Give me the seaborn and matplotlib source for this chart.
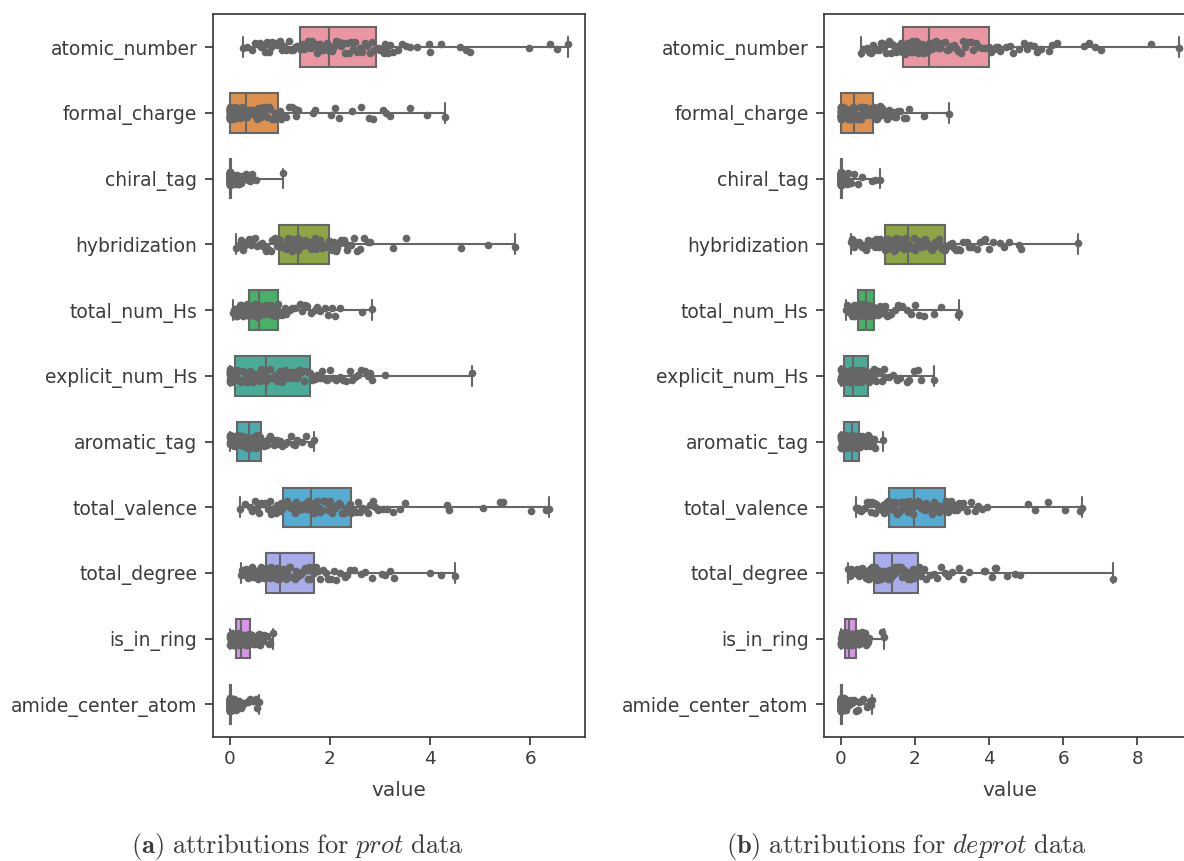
import numpy as np
import pandas as pd
import matplotlib
matplotlib.use("Agg")
import matplotlib.pyplot as plt
import seaborn as sns

FEATURES = ["atomic_number", "formal_charge", "chiral_tag", "hybridization",
            "total_num_Hs", "explicit_num_Hs", "aromatic_tag", "total_valence",
            "total_degree", "is_in_ring", "amide_center_atom"]

# ---------------- prot data ----------------
prot_atomic_number = [
    0.27, 0.45, 0.55, 0.62, 0.70, 0.78, 0.85, 0.92, 1.00, 1.08, 1.18, 1.30, 1.40,
    1.44, 1.48, 1.52, 1.57, 1.62, 1.67, 1.72, 1.78, 1.84, 1.90, 1.95, 1.99,
    2.04, 2.10, 2.16, 2.22, 2.30, 2.38, 2.46, 2.55, 2.64, 2.74, 2.84, 2.92,
    3.05, 3.20, 3.43, 3.51, 3.73, 3.97, 4.21, 4.59, 4.79, 5.97, 6.39, 6.75,
    0.35, 0.50, 0.60, 0.66, 0.74, 0.82, 0.95, 1.04, 1.13, 1.22, 1.27, 1.35,
    1.42, 1.46, 1.50, 1.55, 1.60, 1.65, 1.70, 1.75, 1.81, 1.87, 1.93, 1.97,
    2.02, 2.07, 2.13, 2.19, 2.26, 2.34, 2.42, 2.50, 2.60, 2.69, 2.79, 2.88,
    2.96, 3.00, 3.10, 3.15, 3.25, 3.35, 3.60, 4.00, 4.71, 6.52, 3.08, 3.12]
prot_formal_charge = [
    0.0, 0.0, 0.0, 0.0, 0.0, 0.0, 0.0, 0.0, 0.0, 0.0, 0.0, 0.0, 0.0,
    0.02, 0.04, 0.06, 0.08, 0.10, 0.13, 0.16, 0.19, 0.22, 0.25, 0.28, 0.32,
    0.36, 0.40, 0.45, 0.50, 0.55, 0.60, 0.66, 0.72, 0.78, 0.85, 0.91, 0.97,
    1.30, 1.70, 2.02, 2.19, 2.45, 2.62, 2.78, 3.05, 3.20, 3.59, 3.93, 4.30,
    0.0, 0.0, 0.0, 0.0, 0.0, 0.0, 0.0, 0.0, 0.0, 0.0, 0.0, 0.0,
    0.01, 0.03, 0.05, 0.07, 0.09, 0.12, 0.15, 0.18, 0.21, 0.24, 0.27, 0.30,
    0.34, 0.38, 0.42, 0.47, 0.52, 0.57, 0.63, 0.69, 0.75, 0.81, 0.88, 0.94,
    1.00, 1.03, 1.08, 1.12, 1.18, 1.25, 1.33, 1.37, 1.67, 2.10, 2.85, 3.12]
prot_chiral_tag = [
    0.0, 0.0, 0.0, 0.0, 0.0, 0.0, 0.0, 0.0, 0.0, 0.0,
    0.0, 0.0, 0.0, 0.0, 0.0, 0.0, 0.0, 0.0, 0.0, 0.0,
    0.0, 0.0, 0.0, 0.0, 0.0, 0.0, 0.0, 0.0, 0.0, 0.0,
    0.0, 0.0, 0.01, 0.01, 0.01, 0.02, 0.02,
    0.03, 0.06, 0.09, 0.10, 0.12, 0.16, 0.25, 0.32, 0.40, 0.47, 0.53, 1.07,
    0.0, 0.0, 0.0, 0.0, 0.0, 0.0, 0.0, 0.0, 0.0, 0.0,
    0.0, 0.0, 0.0, 0.0, 0.0, 0.0, 0.0, 0.0, 0.0, 0.0,
    0.0, 0.0, 0.0, 0.0, 0.0, 0.0, 0.0, 0.0, 0.0, 0.0,
    0.01, 0.01, 0.01, 0.01, 0.02, 0.02,
    0.03, 0.04, 0.05, 0.07, 0.08, 0.11, 0.14, 0.18, 0.22, 0.28, 0.36, 0.44]
prot_hybridization = [
    0.13, 0.22, 0.30, 0.38, 0.46, 0.54, 0.62, 0.68, 0.75, 0.82, 0.88, 0.94, 0.99,
    1.02, 1.05, 1.08, 1.12, 1.15, 1.19, 1.22, 1.25, 1.29, 1.32, 1.35, 1.37,
    1.42, 1.47, 1.52, 1.57, 1.62, 1.68, 1.73, 1.78, 1.84, 1.89, 1.94, 1.99,
    2.05, 2.15, 2.28, 2.42, 2.55, 2.68, 2.80, 3.25, 3.51, 4.62, 5.15, 5.70,
    0.18, 0.26, 0.34, 0.42, 0.50, 0.58, 0.65, 0.72, 0.79, 0.85, 0.91, 0.96,
    1.01, 1.04, 1.07, 1.10, 1.14, 1.17, 1.20, 1.24, 1.27, 1.30, 1.33, 1.36,
    1.40, 1.45, 1.50, 1.55, 1.60, 1.65, 1.70, 1.76, 1.81, 1.86, 1.91, 1.96,
    2.02, 2.08, 2.10, 2.18, 2.22, 2.35, 2.48, 2.60, 2.75, 2.20, 2.12, 2.32]
prot_total_num_Hs = [
    0.07, 0.10, 0.13, 0.16, 0.19, 0.22, 0.25, 0.28, 0.30, 0.33, 0.35, 0.37, 0.39,
    0.41, 0.42, 0.44, 0.46, 0.47, 0.49, 0.51, 0.52, 0.54, 0.56, 0.58, 0.59,
    0.62, 0.65, 0.68, 0.71, 0.74, 0.77, 0.80, 0.83, 0.87, 0.90, 0.94, 0.97,
    1.02, 1.10, 1.20, 1.40, 1.55, 1.63, 1.80, 1.97, 2.10, 2.20, 2.65, 2.83,
    0.08, 0.11, 0.14, 0.17, 0.20, 0.23, 0.26, 0.29, 0.31, 0.34, 0.36, 0.38,
    0.40, 0.41, 0.43, 0.45, 0.46, 0.48, 0.50, 0.51, 0.53, 0.55, 0.57, 0.58,
    0.60, 0.63, 0.66, 0.69, 0.72, 0.75, 0.78, 0.82, 0.85, 0.88, 0.92, 0.95,
    0.99, 1.05, 1.15, 1.25, 1.30, 1.45, 1.50, 1.70, 1.75, 1.90, 2.05, 1.12]
prot_explicit_num_Hs = [
    0.0, 0.0, 0.0, 0.01, 0.01, 0.02, 0.03, 0.04, 0.05, 0.06, 0.07, 0.09, 0.10,
    0.15, 0.20, 0.26, 0.32, 0.38, 0.44, 0.50, 0.55, 0.60, 0.65, 0.69, 0.73,
    0.80, 0.87, 0.94, 1.01, 1.08, 1.15, 1.22, 1.30, 1.38, 1.45, 1.53, 1.60,
    1.70, 1.80, 1.90, 2.07, 2.27, 2.40, 2.50, 2.63, 2.76, 2.83, 3.10, 4.83,
    0.0, 0.0, 0.0, 0.0, 0.01, 0.02, 0.03, 0.04, 0.05, 0.06, 0.08, 0.09,
    0.12, 0.17, 0.23, 0.29, 0.35, 0.41, 0.47, 0.52, 0.57, 0.62, 0.67, 0.71,
    0.76, 0.83, 0.90, 0.97, 1.04, 1.11, 1.18, 1.26, 1.34, 1.41, 1.49, 1.56,
    1.65, 1.75, 1.85, 1.95, 2.00, 2.12, 2.20, 2.33, 2.45, 2.57, 2.70, 2.80]
prot_aromatic_tag = [
    0.0, 0.01, 0.02, 0.03, 0.04, 0.05, 0.06, 0.08, 0.09, 0.11, 0.12, 0.14, 0.15,
    0.17, 0.19, 0.21, 0.23, 0.25, 0.27, 0.29, 0.31, 0.33, 0.35, 0.37, 0.38,
    0.40, 0.42, 0.44, 0.46, 0.48, 0.50, 0.52, 0.54, 0.56, 0.58, 0.60, 0.62,
    0.66, 0.72, 0.78, 0.85, 0.92, 1.00, 1.10, 1.27, 1.35, 1.53, 1.62, 1.68,
    0.0, 0.0, 0.01, 0.02, 0.03, 0.05, 0.07, 0.08, 0.10, 0.11, 0.13, 0.14,
    0.16, 0.18, 0.20, 0.22, 0.24, 0.26, 0.28, 0.30, 0.32, 0.34, 0.36, 0.37,
    0.39, 0.41, 0.43, 0.45, 0.47, 0.49, 0.51, 0.53, 0.55, 0.57, 0.59, 0.61,
    0.64, 0.69, 0.75, 0.81, 0.88, 0.95, 1.05, 1.15, 1.22, 1.30, 1.45, 0.70]
prot_total_valence = [
    0.20, 0.40, 0.50, 0.58, 0.66, 0.74, 0.80, 0.86, 0.92, 0.97, 1.01, 1.04, 1.07,
    1.12, 1.17, 1.22, 1.27, 1.32, 1.37, 1.42, 1.47, 1.52, 1.56, 1.60, 1.63,
    1.69, 1.75, 1.81, 1.87, 1.94, 2.00, 2.07, 2.14, 2.21, 2.28, 2.36, 2.43,
    2.60, 2.80, 3.13, 3.50, 4.33, 4.38, 5.05, 5.40, 5.45, 6.02, 6.30, 6.37,
    0.30, 0.45, 0.54, 0.62, 0.70, 0.77, 0.83, 0.89, 0.94, 0.99, 1.03, 1.05,
    1.10, 1.15, 1.20, 1.25, 1.30, 1.35, 1.40, 1.45, 1.50, 1.54, 1.58, 1.62,
    1.66, 1.72, 1.78, 1.84, 1.90, 1.97, 2.04, 2.11, 2.18, 2.25, 2.32, 2.40,
    2.47, 2.52, 2.56, 2.65, 2.70, 2.75, 2.85, 2.90, 2.95, 3.05, 3.25, 3.40]
prot_total_degree = [
    0.23, 0.28, 0.32, 0.36, 0.40, 0.45, 0.50, 0.54, 0.58, 0.62, 0.66, 0.70, 0.73,
    0.75, 0.77, 0.80, 0.82, 0.84, 0.86, 0.88, 0.91, 0.94, 0.96, 0.98, 1.00,
    1.06, 1.12, 1.18, 1.24, 1.30, 1.36, 1.42, 1.48, 1.54, 1.59, 1.64, 1.69,
    1.87, 2.02, 2.13, 2.40, 2.63, 2.83, 3.03, 3.20, 3.27, 4.00, 4.21, 4.49,
    0.25, 0.30, 0.34, 0.38, 0.42, 0.47, 0.52, 0.56, 0.60, 0.64, 0.68, 0.71,
    0.74, 0.76, 0.78, 0.81, 0.83, 0.85, 0.87, 0.90, 0.92, 0.95, 0.97, 0.99,
    1.03, 1.09, 1.15, 1.21, 1.27, 1.33, 1.39, 1.45, 1.51, 1.56, 1.61, 1.66,
    1.72, 1.76, 1.80, 1.92, 1.97, 2.08, 2.20, 2.30, 2.35, 2.48, 2.70, 3.10]
prot_is_in_ring = [
    0.0, 0.01, 0.02, 0.03, 0.04, 0.05, 0.06, 0.07, 0.08, 0.09, 0.10, 0.11, 0.12,
    0.13, 0.14, 0.15, 0.16, 0.17, 0.18, 0.19, 0.20, 0.21, 0.22, 0.22, 0.23,
    0.25, 0.26, 0.28, 0.29, 0.30, 0.32, 0.33, 0.34, 0.36, 0.37, 0.39, 0.40,
    0.43, 0.46, 0.49, 0.52, 0.55, 0.58, 0.62, 0.66, 0.70, 0.75, 0.80, 0.87,
    0.0, 0.01, 0.02, 0.03, 0.04, 0.05, 0.06, 0.07, 0.08, 0.09, 0.10, 0.11,
    0.13, 0.14, 0.15, 0.16, 0.17, 0.18, 0.19, 0.20, 0.20, 0.21, 0.22, 0.22,
    0.24, 0.25, 0.27, 0.28, 0.30, 0.31, 0.33, 0.34, 0.35, 0.37, 0.38, 0.39,
    0.41, 0.42, 0.44, 0.45, 0.47, 0.50, 0.54, 0.57, 0.60, 0.64, 0.68, 0.78]
prot_amide_center_atom = [
    0.0, 0.0, 0.0, 0.0, 0.0, 0.0, 0.0, 0.0, 0.0, 0.0,
    0.0, 0.0, 0.0, 0.0, 0.0, 0.0, 0.0, 0.0, 0.0, 0.0,
    0.0, 0.0, 0.0, 0.0, 0.0, 0.0, 0.0, 0.0, 0.0, 0.0,
    0.0, 0.0, 0.01, 0.01, 0.01, 0.02, 0.02,
    0.04, 0.07, 0.10, 0.13, 0.17, 0.22, 0.28, 0.34, 0.40, 0.46, 0.52, 0.59,
    0.0, 0.0, 0.0, 0.0, 0.0, 0.0, 0.0, 0.0, 0.0, 0.0,
    0.0, 0.0, 0.0, 0.0, 0.0, 0.0, 0.0, 0.0, 0.0, 0.0,
    0.0, 0.0, 0.0, 0.0, 0.0, 0.0, 0.0, 0.0, 0.0, 0.0,
    0.01, 0.01, 0.01, 0.01, 0.02, 0.02,
    0.03, 0.05, 0.06, 0.08, 0.09, 0.11, 0.12, 0.15, 0.19, 0.25, 0.37, 0.55]

# ---------------- deprot data ----------------
deprot_atomic_number = [
    0.54, 0.70, 0.82, 0.92, 1.02, 1.12, 1.22, 1.31, 1.39, 1.47, 1.54, 1.61, 1.67,
    1.73, 1.79, 1.85, 1.91, 1.97, 2.03, 2.09, 2.15, 2.21, 2.27, 2.33, 2.39,
    2.50, 2.62, 2.74, 2.86, 2.98, 3.10, 3.23, 3.36, 3.50, 3.64, 3.80, 3.99,
    4.12, 4.57, 5.03, 5.20, 5.39, 5.61, 5.84, 6.56, 6.87, 7.01, 8.36, 9.13,
    0.60, 0.76, 0.87, 0.97, 1.07, 1.17, 1.26, 1.35, 1.43, 1.50, 1.57, 1.64,
    1.70, 1.76, 1.82, 1.88, 1.94, 2.00, 2.06, 2.12, 2.18, 2.24, 2.30, 2.36,
    2.45, 2.56, 2.68, 2.80, 2.92, 3.04, 3.16, 3.30, 3.43, 3.57, 3.72, 3.90,
    4.05, 4.20, 4.30, 4.45, 4.65, 4.80, 4.95, 5.10, 5.30, 5.70, 6.70, 4.25]
deprot_formal_charge = [
    0.0, 0.0, 0.0, 0.0, 0.0, 0.0, 0.0, 0.0, 0.0, 0.0, 0.0, 0.0, 0.0,
    0.03, 0.06, 0.09, 0.12, 0.15, 0.18, 0.21, 0.24, 0.27, 0.30, 0.33, 0.36,
    0.40, 0.44, 0.48, 0.52, 0.56, 0.60, 0.64, 0.69, 0.74, 0.79, 0.83, 0.87,
    0.95, 1.02, 1.05, 1.10, 1.20, 1.30, 1.40, 1.46, 1.55, 1.69, 2.23, 2.93,
    0.0, 0.0, 0.0, 0.0, 0.0, 0.0, 0.0, 0.0, 0.0, 0.0, 0.0, 0.0,
    0.02, 0.05, 0.08, 0.11, 0.14, 0.17, 0.20, 0.23, 0.26, 0.29, 0.32, 0.35,
    0.38, 0.42, 0.46, 0.50, 0.54, 0.58, 0.62, 0.67, 0.72, 0.77, 0.81, 0.85,
    0.90, 0.93, 0.98, 1.00, 1.08, 1.15, 1.25, 1.35, 1.50, 1.60, 1.75, 1.85]
deprot_chiral_tag = [
    0.0, 0.0, 0.0, 0.0, 0.0, 0.0, 0.0, 0.0, 0.0, 0.0,
    0.0, 0.0, 0.0, 0.0, 0.0, 0.0, 0.0, 0.0, 0.0, 0.0,
    0.0, 0.0, 0.0, 0.0, 0.0, 0.0, 0.0, 0.0, 0.0, 0.0,
    0.0, 0.0, 0.01, 0.01, 0.01, 0.02, 0.02,
    0.02, 0.04, 0.06, 0.08, 0.10, 0.12, 0.15, 0.20, 0.28, 0.56, 0.92, 1.06,
    0.0, 0.0, 0.0, 0.0, 0.0, 0.0, 0.0, 0.0, 0.0, 0.0,
    0.0, 0.0, 0.0, 0.0, 0.0, 0.0, 0.0, 0.0, 0.0, 0.0,
    0.0, 0.0, 0.0, 0.0, 0.0, 0.0, 0.0, 0.0, 0.0, 0.0,
    0.01, 0.01, 0.01, 0.01, 0.02, 0.02,
    0.03, 0.04, 0.05, 0.07, 0.09, 0.11, 0.13, 0.17, 0.24, 0.35, 0.45, 0.85]
deprot_hybridization = [
    0.27, 0.36, 0.45, 0.54, 0.63, 0.72, 0.80, 0.88, 0.96, 1.03, 1.09, 1.14, 1.19,
    1.24, 1.30, 1.35, 1.40, 1.46, 1.52, 1.57, 1.62, 1.67, 1.72, 1.76, 1.80,
    1.88, 1.96, 2.04, 2.12, 2.20, 2.28, 2.37, 2.46, 2.55, 2.64, 2.72, 2.81,
    2.95, 3.10, 3.22, 3.45, 3.67, 3.85, 3.99, 4.30, 4.53, 4.80, 4.85, 6.41,
    0.31, 0.40, 0.49, 0.58, 0.67, 0.76, 0.84, 0.92, 1.00, 1.06, 1.11, 1.16,
    1.22, 1.27, 1.32, 1.38, 1.43, 1.49, 1.54, 1.60, 1.65, 1.70, 1.74, 1.78,
    1.84, 1.92, 2.00, 2.08, 2.16, 2.24, 2.32, 2.41, 2.50, 2.59, 2.68, 2.77,
    2.85, 2.90, 3.00, 3.05, 3.15, 3.30, 3.40, 3.55, 3.75, 3.90, 4.10, 4.40]
deprot_total_num_Hs = [
    0.14, 0.18, 0.22, 0.26, 0.30, 0.33, 0.36, 0.39, 0.41, 0.43, 0.45, 0.46, 0.47,
    0.49, 0.51, 0.53, 0.55, 0.57, 0.59, 0.61, 0.62, 0.64, 0.65, 0.67, 0.68,
    0.70, 0.71, 0.73, 0.75, 0.76, 0.78, 0.80, 0.82, 0.84, 0.85, 0.87, 0.89,
    0.95, 1.05, 1.20, 1.35, 1.55, 1.78, 2.00, 2.23, 2.50, 2.71, 3.15, 3.18,
    0.16, 0.20, 0.24, 0.28, 0.31, 0.35, 0.38, 0.40, 0.42, 0.44, 0.45, 0.46,
    0.48, 0.50, 0.52, 0.54, 0.56, 0.58, 0.60, 0.61, 0.63, 0.64, 0.66, 0.67,
    0.69, 0.70, 0.72, 0.74, 0.75, 0.77, 0.79, 0.81, 0.83, 0.84, 0.86, 0.88,
    0.91, 0.93, 0.98, 1.00, 1.10, 1.15, 1.25, 1.30, 1.45, 1.65, 1.90, 2.10]
deprot_explicit_num_Hs = [
    0.0, 0.0, 0.0, 0.01, 0.01, 0.02, 0.03, 0.04, 0.05, 0.06, 0.06, 0.07, 0.08,
    0.10, 0.12, 0.14, 0.16, 0.18, 0.20, 0.22, 0.24, 0.26, 0.28, 0.31, 0.33,
    0.36, 0.39, 0.42, 0.45, 0.48, 0.51, 0.54, 0.58, 0.62, 0.66, 0.70, 0.74,
    0.80, 0.88, 0.95, 1.05, 1.15, 1.40, 1.51, 1.78, 1.96, 2.07, 2.15, 2.50,
    0.0, 0.0, 0.0, 0.0, 0.01, 0.02, 0.02, 0.03, 0.04, 0.05, 0.06, 0.07,
    0.09, 0.11, 0.13, 0.15, 0.17, 0.19, 0.21, 0.23, 0.25, 0.27, 0.29, 0.32,
    0.35, 0.38, 0.41, 0.44, 0.47, 0.50, 0.53, 0.56, 0.60, 0.64, 0.68, 0.72,
    0.76, 0.78, 0.83, 0.85, 0.90, 0.98, 1.00, 1.10, 1.20, 1.30, 1.60, 1.85]
deprot_aromatic_tag = [
    0.0, 0.0, 0.01, 0.01, 0.02, 0.02, 0.03, 0.04, 0.04, 0.05, 0.06, 0.06, 0.07,
    0.09, 0.11, 0.13, 0.15, 0.17, 0.19, 0.21, 0.23, 0.25, 0.26, 0.28, 0.29,
    0.31, 0.33, 0.35, 0.36, 0.38, 0.40, 0.42, 0.43, 0.45, 0.47, 0.48, 0.50,
    0.53, 0.56, 0.60, 0.64, 0.68, 0.72, 0.76, 0.80, 0.84, 0.88, 0.92, 1.13,
    0.0, 0.0, 0.0, 0.01, 0.02, 0.03, 0.03, 0.04, 0.05, 0.05, 0.06, 0.06,
    0.08, 0.10, 0.12, 0.14, 0.16, 0.18, 0.20, 0.22, 0.24, 0.25, 0.27, 0.28,
    0.30, 0.32, 0.34, 0.35, 0.37, 0.39, 0.41, 0.42, 0.44, 0.46, 0.47, 0.49,
    0.51, 0.52, 0.54, 0.55, 0.58, 0.62, 0.66, 0.70, 0.74, 0.78, 0.82, 0.86]
deprot_total_valence = [
    0.40, 0.50, 0.60, 0.70, 0.80, 0.88, 0.96, 1.03, 1.10, 1.16, 1.21, 1.26, 1.31,
    1.37, 1.43, 1.49, 1.55, 1.61, 1.67, 1.73, 1.79, 1.84, 1.89, 1.94, 1.98,
    2.05, 2.12, 2.19, 2.26, 2.33, 2.40, 2.47, 2.54, 2.61, 2.67, 2.74, 2.80,
    2.90, 3.00, 3.13, 3.30, 3.63, 3.94, 5.04, 5.23, 5.58, 6.06, 6.45, 6.51,
    0.45, 0.55, 0.65, 0.75, 0.84, 0.92, 0.99, 1.06, 1.13, 1.18, 1.23, 1.28,
    1.34, 1.40, 1.46, 1.52, 1.58, 1.64, 1.70, 1.76, 1.81, 1.86, 1.91, 1.96,
    2.01, 2.08, 2.15, 2.22, 2.29, 2.36, 2.43, 2.50, 2.57, 2.64, 2.70, 2.77,
    2.83, 2.86, 2.95, 3.05, 3.10, 3.20, 3.40, 3.50, 3.70, 3.80, 3.25, 2.98]
deprot_total_degree = [
    0.20, 0.28, 0.36, 0.43, 0.50, 0.56, 0.62, 0.67, 0.72, 0.77, 0.81, 0.85, 0.89,
    0.93, 0.97, 1.01, 1.05, 1.09, 1.13, 1.17, 1.21, 1.26, 1.30, 1.35, 1.39,
    1.45, 1.51, 1.57, 1.63, 1.69, 1.75, 1.81, 1.87, 1.93, 1.98, 2.03, 2.07,
    2.30, 2.50, 2.90, 3.18, 3.45, 3.85, 4.08, 4.20, 4.48, 4.71, 4.83, 7.34,
    0.24, 0.32, 0.40, 0.46, 0.53, 0.59, 0.64, 0.70, 0.75, 0.79, 0.83, 0.87,
    0.91, 0.95, 0.99, 1.03, 1.07, 1.11, 1.15, 1.19, 1.23, 1.28, 1.32, 1.37,
    1.42, 1.48, 1.54, 1.60, 1.66, 1.72, 1.78, 1.84, 1.90, 1.95, 2.00, 2.05,
    2.10, 2.15, 2.20, 2.25, 2.40, 2.60, 2.70, 2.80, 3.00, 3.30, 3.90, 4.15]
deprot_is_in_ring = [
    0.0, 0.01, 0.02, 0.03, 0.03, 0.04, 0.05, 0.06, 0.07, 0.07, 0.08, 0.09, 0.10,
    0.11, 0.12, 0.13, 0.14, 0.15, 0.16, 0.17, 0.18, 0.19, 0.20, 0.21, 0.23,
    0.24, 0.26, 0.27, 0.29, 0.30, 0.32, 0.33, 0.35, 0.36, 0.38, 0.40, 0.42,
    0.44, 0.46, 0.48, 0.50, 0.53, 0.56, 0.60, 0.64, 0.70, 0.75, 1.10, 1.16,
    0.0, 0.0, 0.01, 0.02, 0.03, 0.04, 0.05, 0.05, 0.06, 0.07, 0.08, 0.09,
    0.11, 0.12, 0.13, 0.14, 0.15, 0.16, 0.17, 0.18, 0.19, 0.20, 0.21, 0.22,
    0.24, 0.25, 0.27, 0.28, 0.30, 0.31, 0.33, 0.34, 0.36, 0.37, 0.39, 0.41,
    0.43, 0.45, 0.47, 0.49, 0.51, 0.54, 0.57, 0.60, 0.62, 0.66, 0.68, 0.72]
deprot_amide_center_atom = [
    0.0, 0.0, 0.0, 0.0, 0.0, 0.0, 0.0, 0.0, 0.0, 0.0,
    0.0, 0.0, 0.0, 0.0, 0.0, 0.0, 0.0, 0.0, 0.0, 0.0,
    0.0, 0.0, 0.0, 0.0, 0.0, 0.0, 0.0, 0.0, 0.0, 0.0,
    0.0, 0.0, 0.01, 0.01, 0.01, 0.02, 0.02,
    0.03, 0.06, 0.10, 0.14, 0.20, 0.30, 0.40, 0.50, 0.60, 0.70, 0.78, 0.83,
    0.0, 0.0, 0.0, 0.0, 0.0, 0.0, 0.0, 0.0, 0.0, 0.0,
    0.0, 0.0, 0.0, 0.0, 0.0, 0.0, 0.0, 0.0, 0.0, 0.0,
    0.0, 0.0, 0.0, 0.0, 0.0, 0.0, 0.0, 0.0, 0.0, 0.0,
    0.01, 0.01, 0.01, 0.01, 0.02, 0.02,
    0.03, 0.05, 0.07, 0.09, 0.12, 0.16, 0.22, 0.26, 0.35, 0.45, 0.55, 0.80]

PROT = [prot_atomic_number, prot_formal_charge, prot_chiral_tag, prot_hybridization,
        prot_total_num_Hs, prot_explicit_num_Hs, prot_aromatic_tag, prot_total_valence,
        prot_total_degree, prot_is_in_ring, prot_amide_center_atom]
DEPROT = [deprot_atomic_number, deprot_formal_charge, deprot_chiral_tag, deprot_hybridization,
          deprot_total_num_Hs, deprot_explicit_num_Hs, deprot_aromatic_tag, deprot_total_valence,
          deprot_total_degree, deprot_is_in_ring, deprot_amide_center_atom]

CAPTIONS = [r"$\mathbf{(a)}\ \mathrm{attributions\ for}\ \mathit{prot}\ \mathrm{data}$",
            r"$\mathbf{(b)}\ \mathrm{attributions\ for}\ \mathit{deprot}\ \mathrm{data}$"]


def to_long(series_list):
    rows = []
    for feat, vals in zip(FEATURES, series_list):
        for v in vals:
            rows.append((feat, v))
    return pd.DataFrame(rows, columns=["feature", "value"])


sns.set_theme(style="ticks", context="notebook", font_scale=1.2)
plt.rcParams["font.family"] = ["DejaVu Sans"]
plt.rcParams["mathtext.fontset"] = "cm"
DARK = "#3c3c3c"
plt.rcParams.update({
    "text.color": DARK, "axes.labelcolor": DARK, "axes.edgecolor": DARK,
    "xtick.color": DARK, "ytick.color": DARK,
    "ytick.labelsize": 13.5, "ytick.major.pad": 5,
})

W, H = 1184, 861
fig = plt.figure(figsize=(W / 100, H / 100), dpi=100)
ax1 = fig.add_axes([212.7 / W, 1 - 737.3 / H, 372.3 / W, 723 / H])
ax2 = fig.add_axes([824.0 / W, 1 - 737.3 / H, 372.0 / W, 723 / H])

LINE = "#666666"
PALETTE = sns.husl_palette(len(FEATURES), l=.7)
for i, (ax, data) in enumerate([(ax1, PROT), (ax2, DEPROT)]):
    df = to_long(data)
    sns.boxplot(data=df, x="value", y="feature", hue="feature", order=FEATURES,
                hue_order=FEATURES, palette=PALETTE, saturation=0.75, whis=np.inf,
                width=0.6, linewidth=1.5, linecolor=LINE, fliersize=0,
                legend=False, ax=ax)
    np.random.seed(3 + i)
    sns.stripplot(data=df, x="value", y="feature", order=FEATURES, color=LINE,
                  size=5.5, jitter=True, linewidth=0, ax=ax)
    ax.set_ylabel("")
    ax.set_xlabel("value", labelpad=9)

fig.text(297 / W, 1 - 853 / H, CAPTIONS[0], ha="center", va="baseline", fontsize=19)
fig.text(906 / W, 1 - 853 / H, CAPTIONS[1], ha="center", va="baseline", fontsize=19)

fig.savefig("out.png", dpi=100)
